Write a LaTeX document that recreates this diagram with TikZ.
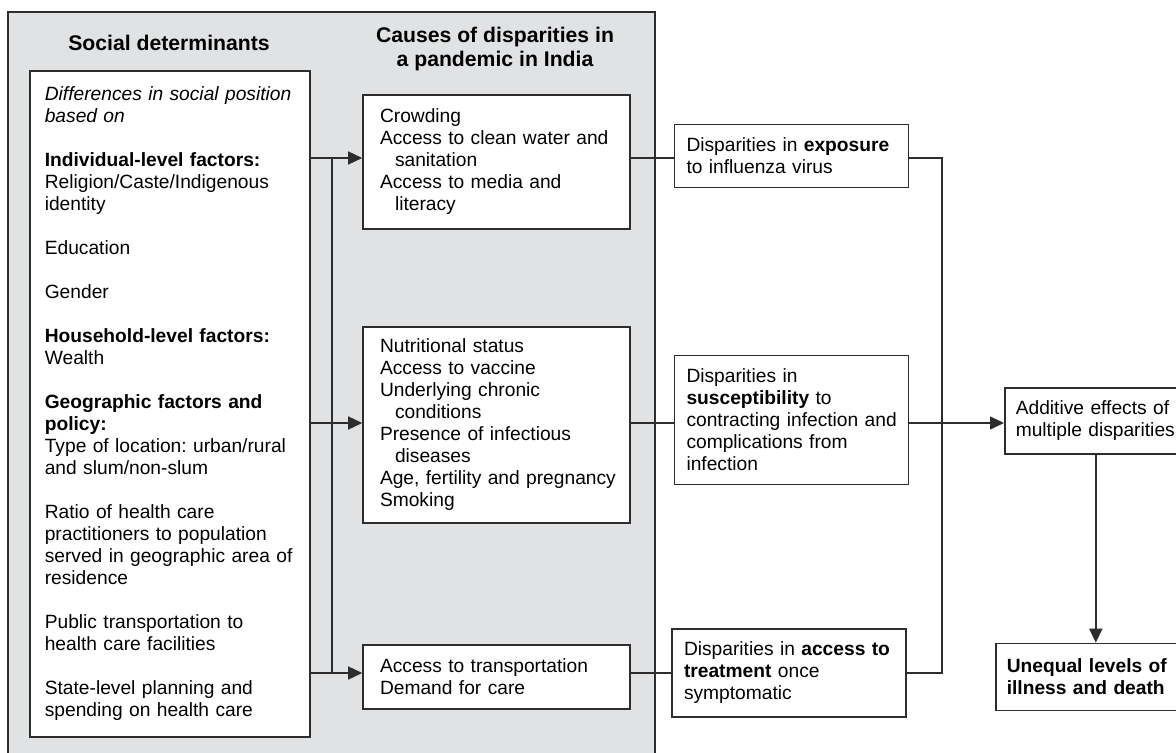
\documentclass[tikz,border=0pt]{standalone}
\usepackage{fontspec}
\setmainfont{Liberation Sans}
\usetikzlibrary{positioning,arrows.meta,calc}
\definecolor{panelg}{RGB}{225,226,228}
\definecolor{edgeg}{RGB}{45,45,45}

\begin{document}
\frenchspacing
\begin{tikzpicture}[
  x=0.5pt, y=-0.5pt,
  font=\fontsize{9.6}{11}\selectfont,
  box/.style={draw=edgeg, fill=white, line width=0.8pt, align=left, inner ysep=2pt},
  lbox/.style={box, text width=125pt, inner xsep=7.5pt, minimum height=333pt},
  cbox/.style={box, text width=116.5pt, inner xsep=8.5pt},
  dbox/.style={box, text width=105pt, inner xsep=6pt},
  obox/.style={box, text width=80pt, inner xsep=5.5pt},
  ttl/.style={font=\fontsize{10.6}{11.6}\selectfont\bfseries, align=center},
  link/.style={draw=edgeg, line width=0.75pt},
  arr/.style={link, -{Triangle[length=7pt,width=6.5pt]}},
]
\useasboundingbox (0,0) rectangle (1176,753);

% ---------- grey panel + column titles ----------
\draw[draw=edgeg, fill=panelg, line width=0.6pt] (8,12) rectangle (655,765);
\node[ttl] (sdttl) at (169,43) {Social determinants};
\node[ttl] (cdttl) at (495,49) {Causes of disparities in\\a pandemic in India};

% ---------- social determinants ----------
\node[lbox, anchor=north west] (sd) at (29,70)
  {\mbox{\textit{Differences in social position}}\\\textit{based on}\\[11pt]
   \textbf{Individual-level factors:}\\Religion/Caste/Indigenous\\identity\\[11pt]
   Education\\[11pt]
   Gender\\[11pt]
   \textbf{Household-level factors:}\\Wealth\\[11pt]
   \textbf{Geographic factors and}\\\textbf{policy:}\\
   Type of location: urban/rural\\and slum/non-slum\\[11pt]
   Ratio of health care\\practitioners to population\\
   \mbox{served in geographic area of}\\residence\\[11pt]
   Public transportation to\\health care facilities\\[11pt]
   State-level planning and\\spending on health care};

% ---------- causes ----------
\node[cbox, minimum height=67pt] (crowd) at (496.5,162)
  {Crowding\\\mbox{Access to clean water and}\\\hspace*{7.5pt}sanitation\\
   Access to media and\\\hspace*{7.5pt}literacy};
\node[cbox, minimum height=98pt] (nutri) at (496.5,425)
  {Nutritional status\\Access to vaccine\\Underlying chronic\\
   \hspace*{7.5pt}conditions\\Presence of infectious\\\hspace*{7.5pt}diseases\\
   \mbox{Age, fertility and pregnancy}\\Smoking};
\node[cbox, minimum height=32pt] (trans) at (496.5,677)
  {Access to transportation\\Demand for care};

% ---------- disparities ----------
\node[dbox, minimum height=31.5pt] (expo) at (791.5,156)
  {Disparities in \textbf{exposure}\\to influenza virus};
\node[dbox, minimum height=64.5pt] (susc) at (791.5,420)
  {Disparities in\\\textbf{susceptibility} to\\\mbox{contracting infection and}\\
   complications from\\infection};
\node[dbox, minimum height=44pt] (treat) at (789,673)
  {Disparities in \textbf{access to}\\\textbf{treatment} once\\symptomatic};

% ---------- outcome ----------
\node[obox, minimum height=33pt, anchor=west] (addit) at (1004,421)
  {Additive effects of\\\mbox{multiple disparities}};
\node[obox, minimum height=33.5pt, anchor=west] (uneq) at (995,677)
  {\mbox{\textbf{Unequal levels of}}\\\mbox{\textbf{illness and death}}};

% ---------- connectors ----------
\coordinate (row1) at (0,158);
\coordinate (row2) at (0,423);
\coordinate (row3) at (0,673);
\coordinate (bus) at (332,0);
\coordinate (coll) at (942,0);

\draw[arr] (sd.east |- row1) -- (crowd.west |- row1);
\draw[arr] (sd.east |- row2) -- (nutri.west |- row2);
\draw[arr] (sd.east |- row3) -- (trans.west |- row3);
\draw[link] (bus |- row1) -- (bus |- row3);

\draw[link] (crowd.east |- row1) -- (expo.west |- row1);
\draw[link] (nutri.east |- row2) -- (susc.west |- row2);
\draw[link] (trans.east |- row3) -- (treat.west |- row3);

\draw[link] (expo.east |- row1) -| (coll |- row3) -- (treat.east |- row3);
\draw[arr] (susc.east |- row2) -- (addit.west |- row2);
\draw[arr] (addit.south) -- (addit.south |- uneq.north);

\end{tikzpicture}
\end{document}
